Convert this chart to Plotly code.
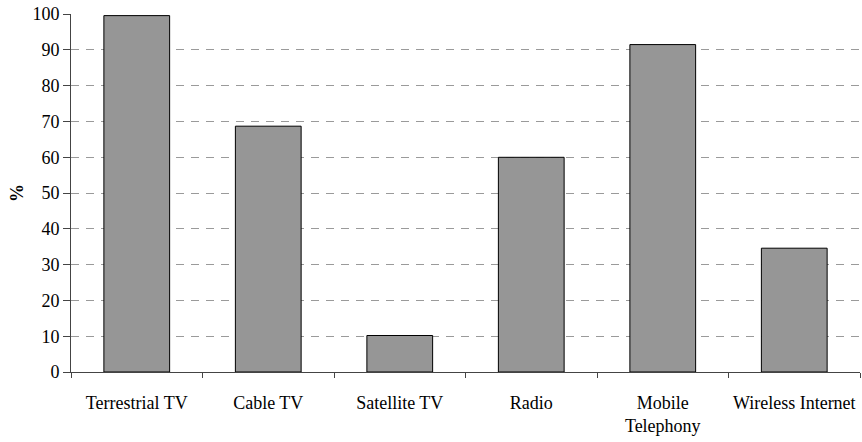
import plotly.graph_objects as go

categories = ["Terrestrial TV", "Cable TV", "Satellite TV", "Radio", "Mobile<br>Telephony", "Wireless Internet"]
values = [99.6, 68.7, 10.2, 60.0, 91.5, 34.6]
y_ticks = list(range(0, 101, 10))

fig = go.Figure(go.Bar(
    x=categories, y=values,
    marker=dict(color="#969696", line=dict(color="#000000", width=1)),
))

font = dict(family="Liberation Serif", size=18, color="#000000")
fig.update_layout(
    width=862, height=442,
    margin=dict(l=71, r=2, t=14, b=70),
    paper_bgcolor="white", plot_bgcolor="white",
    bargap=0.5, showlegend=False, font=font,
)
fig.update_xaxes(
    tickson="boundaries", ticks="outside", ticklen=5, tickcolor="#444",
    showline=True, linecolor="#444", linewidth=1, showgrid=False,
    tickfont=font, automargin=False, tickangle=0, ticklabelstandoff=14,
)
fig.update_yaxes(
    range=[0, 100.05], tickvals=y_ticks, ticks="outside", ticklen=7, tickcolor="#444",
    showline=True, linecolor="#444", linewidth=1,
    showgrid=True, gridcolor="#9a9a9a", griddash="8px,7px", gridwidth=1,
    zeroline=False, tickfont=font, automargin=False, ticksuffix="\u00a0",
    title=dict(text="<b>%</b>", font=font, standoff=4),
)
fig.write_html("out.html", config={"displayModeBar": False},
               post_script="document.body.style.margin='0';")
